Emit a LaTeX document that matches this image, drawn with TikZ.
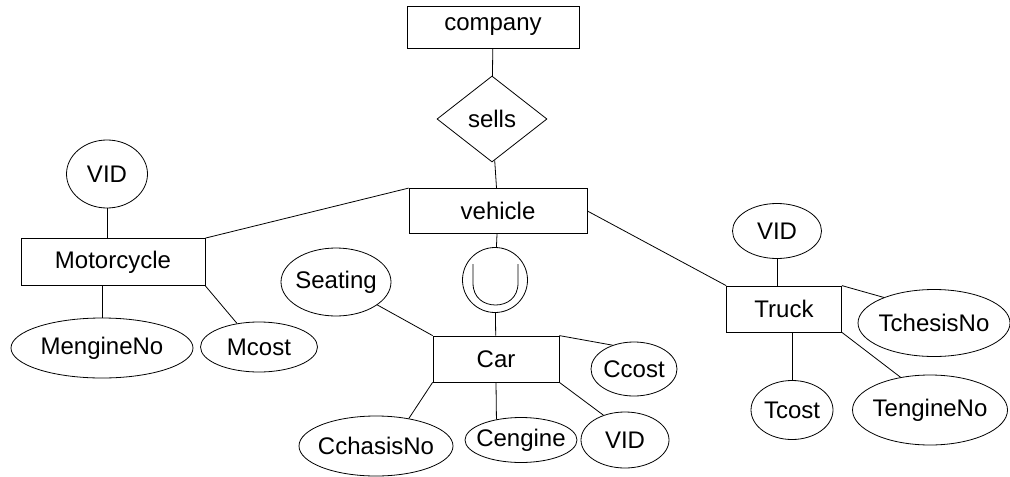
\documentclass[tikz,border=0pt]{standalone}
\usepackage{fontspec}
\setmainfont{Liberation Sans}
\usetikzlibrary{shapes.geometric}

\begin{document}
\begin{tikzpicture}[x=0.5pt,y=-0.5pt,
    every node/.style={font=\fontsize{12}{14}\selectfont},
    entity/.style={rectangle, draw, inner sep=0pt},
    attr/.style={ellipse, draw, inner xsep=-14pt, inner ysep=0pt},
    rel/.style={diamond, draw, inner sep=0pt}]
  \useasboundingbox (0,0) rectangle (1010,476);
  % top
  \node [entity, minimum width=86pt, minimum height=21pt] (company) at (493,27) {company};
  \node [rel, minimum width=55pt, minimum height=43pt] (sells) at (492,119) {sells};
  \node [entity, minimum width=89pt, minimum height=22.5pt] (vehicle) at (498,211) {vehicle};
  \node [circle, draw, minimum size=32.5pt, inner sep=0pt] (union) at (495,280) {};
  \draw (473,264) -- (473,283) .. controls (473,298) and (484,305) .. (495.5,305)
        .. controls (507,305) and (518,298) .. (518,283) -- (518,264);
  % motorcycle
  \node [entity, minimum width=92pt, minimum height=23.5pt] (moto) at (113,262) {Motorcycle};
  \node [attr, minimum width=40.5pt, minimum height=34pt] (mvid) at (107,174) {VID};
  \node [attr, minimum width=91pt, minimum height=30pt] (mengine) at (102,348) {MengineNo};
  \node [attr, minimum width=58.5pt, minimum height=25pt] (mcost) at (259,347) {Mcost};
  % car
  \node [entity, minimum width=63pt, minimum height=23pt] (car) at (496,359) {Car};
  \node [attr, minimum width=55pt, minimum height=34pt] (seating) at (336,282) {Seating};
  \node [attr, minimum width=43pt, minimum height=27pt] (ccost) at (634,369) {Ccost};
  \node [attr, minimum width=77pt, minimum height=30pt] (cchasis) at (376,446) {CchasisNo};
  \node [attr, minimum width=56pt, minimum height=22.5pt] (cengine) at (521,440) {Cengine};
  \node [attr, minimum width=44pt, minimum height=28pt] (cvid) at (625,440) {VID};
  % truck
  \node [entity, minimum width=57.5pt, minimum height=23pt] (truck) at (784,309) {Truck};
  \node [attr, minimum width=44.5pt, minimum height=27.5pt] (tvid) at (777,231) {VID};
  \node [attr, minimum width=76pt, minimum height=33.5pt] (tchesis) at (934,323) {TchesisNo};
  \node [attr, minimum width=41pt, minimum height=29.5pt] (tcost) at (792,410) {Tcost};
  \node [attr, minimum width=77.5pt, minimum height=35pt] (tengine) at (930,410) {TengineNo};

  \draw (company) -- (sells);
  \draw (sells) -- (vehicle);
  \draw (vehicle) -- (union);
  \draw (union) -- (car);
  \draw (moto.north east) -- (vehicle.north west);
  \draw (vehicle.east) -- (truck.north west);
  \draw (mvid.south) -- (mvid.south |- moto.north);
  \draw (mengine.north) -- (mengine.north |- moto.south);
  \draw (moto.south east) -- (mcost.133);
  \draw (car.north west) -- (seating);
  \draw (car.north east) -- (ccost.132);
  \draw (car.south west) -- (cchasis.40);
  \draw (car.south) -- (cengine.140);
  \draw (car.south east) -- (cvid.131);
  \draw (tvid.south) -- (tvid.south |- truck.north);
  \draw (truck.north east) -- (tchesis.153);
  \draw (tcost.north |- truck.south) -- (tcost.north);
  \draw (truck.south east) -- (tengine.132);
\end{tikzpicture}
\end{document}
